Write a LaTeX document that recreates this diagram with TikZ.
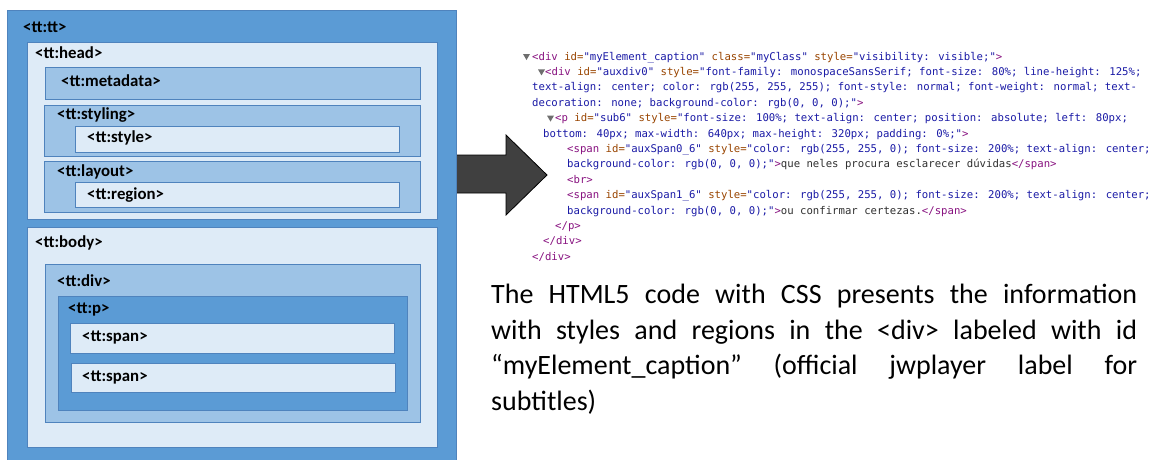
\documentclass[tikz,border=0pt]{standalone}
\usepackage{fontspec}
\setmainfont{Carlito}
\newfontfamily\codefont{DejaVu Sans Mono}

\definecolor{blueA}{HTML}{5B9BD5}
\definecolor{blueB}{HTML}{9DC3E6}
\definecolor{blueC}{HTML}{DEEBF7}
\definecolor{edgeblue}{HTML}{4F83BD}
\definecolor{arrowgrey}{HTML}{404040}
\definecolor{tagc}{HTML}{881280}
\definecolor{attrc}{HTML}{994500}
\definecolor{valc}{HTML}{1A1AA6}
\definecolor{txtc}{HTML}{303030}
\definecolor{togglec}{HTML}{6E6E6E}

% syntax colouring of the DOM listing
\newcommand{\tg}[1]{\textcolor{tagc}{#1}}
\newcommand{\an}[1]{\textcolor{attrc}{#1}}
\newcommand{\av}[1]{\textcolor{valc}{#1}}
\newcommand{\tx}[1]{\textcolor{txtc}{#1}}

\tikzset{
  x=1pt, y=-1pt,
  box/.style={draw=edgeblue, line width=0.6pt, inner sep=0pt, anchor=north west},
  darkbox/.style={box, fill=blueA},
  midbox/.style={box, fill=blueB},
  lightbox/.style={box, fill=blueC},
  tag/.style={anchor=base west, inner sep=0pt, font=\fontsize{16.8}{20}\selectfont\bfseries},
  code/.style={anchor=base west, inner sep=0pt, font=\fontsize{10.65}{13}\codefont},
  toggle/.style={fill=togglec},
}

\begin{document}
\begin{tikzpicture}
\useasboundingbox (0,0) rectangle (1151,459);
\clip (0,0) rectangle (1151,459);
\fill[white] (0,0) rectangle (1151,459);

% big arrow (drawn first so the outer frame covers its tail)
\draw[fill=arrowgrey, draw=black, line width=0.8pt, line join=miter]
  (440,155) -- (506,155) -- (506,135) -- (547,175) -- (506,215) -- (506,193) -- (440,193) -- cycle;

% ---- TTML document structure ----
\node[darkbox, minimum width=449, minimum height=455] (tt) at (7,10) {};
\node[tag] (ttL) at (23,32) {<tt:tt>};

\node[lightbox, minimum width=410, minimum height=177] (head) at (27,42) {};
\node[tag] (headL) at (35,58) {<tt:head>};

\node[midbox, minimum width=375, minimum height=32] (meta) at (45,67) {};
\node[tag] (metaL) at (61,86) {<tt:metadata>};

\node[midbox, minimum width=376, minimum height=51] (styling) at (44,105) {};
\node[tag] (stylingL) at (57,119) {<tt:styling>};
\node[lightbox, minimum width=324, minimum height=26] (style) at (75,126) {};
\node[tag] (styleL) at (87,142) {<tt:style>};

\node[midbox, minimum width=376, minimum height=51] (layout) at (44,161) {};
\node[tag] (layoutL) at (57,176) {<tt:layout>};
\node[lightbox, minimum width=324, minimum height=25] (region) at (75,182) {};
\node[tag] (regionL) at (87,199) {<tt:region>};

\node[lightbox, minimum width=410, minimum height=220] (body) at (27,227) {};
\node[tag] (bodyL) at (35,247) {<tt:body>};

\node[midbox, minimum width=375, minimum height=158] (div) at (45,264) {};
\node[tag] (divL) at (57,286) {<tt:div>};

\node[darkbox, minimum width=349, minimum height=114] (p) at (58,296) {};
\node[tag] (pL) at (68,313) {<tt:p>};

\node[lightbox, minimum width=324, minimum height=30] (span1) at (70,323) {};
\node[tag] (span1L) at (82,341) {<tt:span>};
\node[lightbox, minimum width=324, minimum height=29] (span2) at (71,363) {};
\node[tag] (span2L) at (82,381) {<tt:span>};

% ---- rendered HTML5 DOM ----
\fill[toggle] (523,54) -- (530,54) -- (526.5,60) -- cycle;
\fill[toggle] (538,69.4) -- (545,69.4) -- (541.5,75.4) -- cycle;
\fill[toggle] (547,115.6) -- (554,115.6) -- (550.5,121.6) -- cycle;

\node[code] (c1) at (532,60) {\tg{<div} \an{id=}\av{"myElement\_caption"} \an{class=}\av{"myClass"} \an{style=}\av{"visibility: visible;"}\tg{>}};
\node[code] (c2) at (545,75.4) {\tg{<div} \an{id=}\av{"auxdiv0"} \an{style=}\av{"font-family: monospaceSansSerif; font-size: 80\%; line-height: 125\%;}};
\node[code] (c3) at (532,90.8) {\av{text-align: center; color: rgb(255, 255, 255); font-style: normal; font-weight: normal; text-}};
\node[code] (c4) at (532,106.2) {\av{decoration: none; background-color: rgb(0, 0, 0);"}\tg{>}};
\node[code] (c5) at (555,121.6) {\tg{<p} \an{id=}\av{"sub6"} \an{style=}\av{"font-size: 100\%; text-align: center; position: absolute; left: 80px;}};
\node[code] (c6) at (543,137) {\av{bottom: 40px; max-width: 640px; max-height: 320px; padding: 0\%;"}\tg{>}};
\node[code] (c7) at (567,152.4) {\tg{<span} \an{id=}\av{"auxSpan0\_6"} \an{style=}\av{"color: rgb(255, 255, 0); font-size: 200\%; text-align: center;}};
\node[code] (c8) at (567,167.8) {\av{background-color: rgb(0, 0, 0);"}\tg{>}\tx{que neles procura esclarecer dúvidas}\tg{</span>}};
\node[code] (c9) at (567,183.2) {\tg{<br>}};
\node[code] (c10) at (567,198.6) {\tg{<span} \an{id=}\av{"auxSpan1\_6"} \an{style=}\av{"color: rgb(255, 255, 0); font-size: 200\%; text-align: center;}};
\node[code] (c11) at (567,214) {\av{background-color: rgb(0, 0, 0);"}\tg{>}\tx{ou confirmar certezas.}\tg{</span>}};
\node[code] (c12) at (555,229.4) {\tg{</p>}};
\node[code] (c13) at (543,244.8) {\tg{</div>}};
\node[code] (c14) at (532,260.2) {\tg{</div>}};

% ---- explanation ----
\node[anchor=north west, inner sep=0pt, text width=646pt, align=justify,
      font=\fontsize{28}{35.5}\selectfont] (para) at (491,284)
  {The HTML5 code with CSS presents the information\linebreak
   with styles and regions in the <div> labeled with id\linebreak
   “myElement\_caption” (official jwplayer label for\linebreak
   subtitles)};
\end{tikzpicture}
\end{document}
